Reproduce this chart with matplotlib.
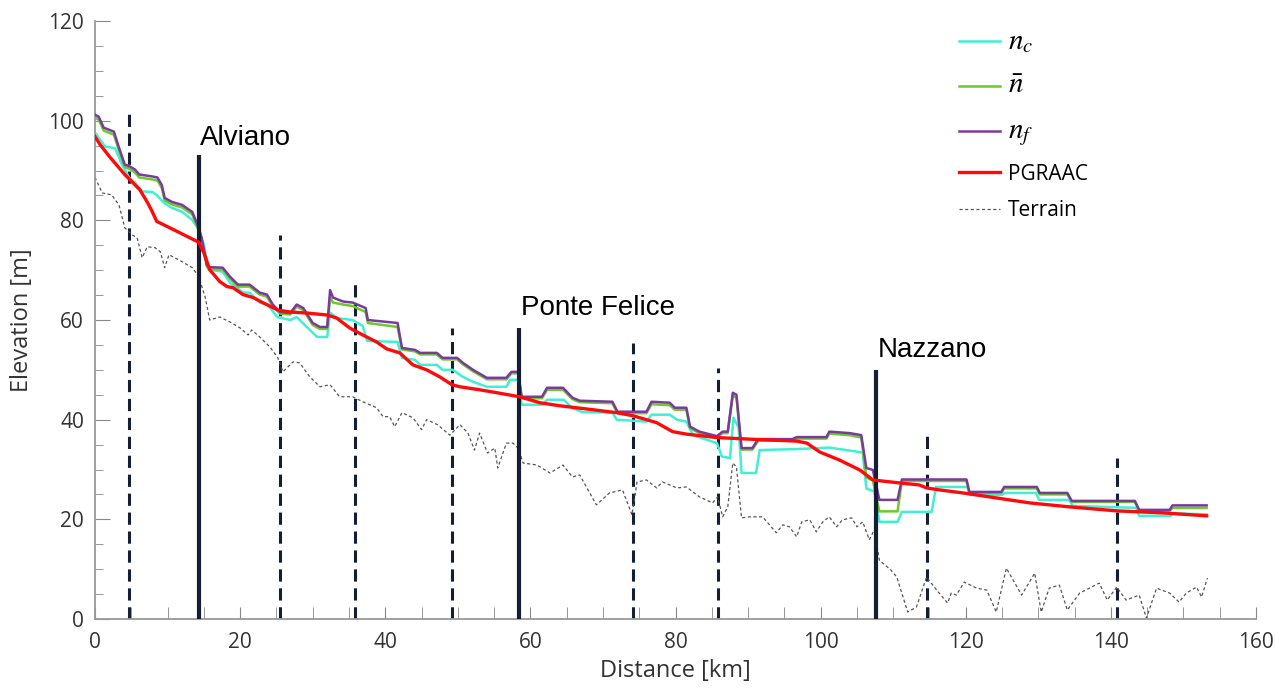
import matplotlib
matplotlib.use("Agg")
import matplotlib.pyplot as plt
from matplotlib.ticker import MultipleLocator

plt.rcParams['font.family'] = ['Open Sans', 'DejaVu Sans']
plt.rcParams['mathtext.fontset'] = 'stix'

# n_c (cyan)
nc_x = [0, 0.5, 1.4, 2.3, 2.8, 3.7, 4.7, 5.5, 6.5, 7.9, 8.5, 9.5, 10.6, 12.0, 13.4, 14.3, 15.0, 15.7,
        17.6, 18.6, 20.4, 21.3, 22.7, 23.8, 25.1, 26.9, 27.8, 29.6, 30.6, 32.0, 32.4, 33.3, 35.5, 36.9,
        37.5, 41.7, 42.3, 44.1, 44.8, 47.1, 47.9, 49.3, 50.7, 52.1, 54.0, 56.7, 57.2, 58.3, 58.8, 61.7,
        62.3, 64.6, 65.7, 67.2, 71.3, 71.9, 76.0, 76.7, 79.2, 80.2, 81.5, 82.4, 85.7, 86.4, 87.5, 88.0,
        88.7, 89.1, 91.1, 91.6, 96.7, 101.2, 104.0, 105.8, 106.3, 107.4, 108.1, 110.6, 111.2, 115.3,
        115.9, 120.2, 120.6, 125.0, 125.3, 129.7, 130.1, 134.3, 134.7, 143.5, 143.9, 148.2, 148.6, 153.2]
nc_y = [97.6, 96.6, 94.8, 94.6, 94.4, 91.2, 88.6, 87.6, 85.8, 85.7, 85.1, 83.5, 82.5, 81.7, 80.1, 78.1, 75.1, 70.1,
        69.7, 67.5, 65.5, 65.5, 63.5, 63.1, 60.6, 60.0, 60.6, 58.0, 56.6, 56.6, 61.5, 60.4, 60.0, 58.8,
        55.8, 55.6, 52.4, 52.0, 51.0, 51.0, 50.0, 50.0, 48.6, 47.6, 46.6, 46.6, 48.0, 48.0, 43.0, 43.0,
        44.0, 44.0, 42.4, 41.5, 41.4, 40.0, 39.6, 41.0, 41.0, 40.0, 39.6, 36.9, 35.3, 32.6, 32.3, 40.4,
        38.4, 29.3, 29.3, 33.9, 34.1, 34.4, 33.8, 33.4, 26.2, 25.6, 19.5, 19.5, 21.5, 21.5,
        26.5, 26.5, 24.9, 24.9, 25.3, 25.3, 23.9, 23.9, 22.7, 22.3, 20.7, 20.7, 21.2, 21.0]

# n_f (purple)
nf_x = [0, 0.5, 1.2, 1.9, 2.6, 3.3, 4.1, 4.8, 5.5, 6.1, 7.9, 8.6, 9.2, 9.6, 10.6, 12.0, 13.4, 14.3, 14.7,
        15.4, 15.7, 17.6, 18.6, 19.7, 21.3, 22.7, 23.7, 24.5, 25.5, 26.9, 27.8, 28.7, 30.0, 31.0, 32.0,
        32.4, 32.8, 34.2, 35.5, 37.3, 37.6, 41.7, 42.3, 44.1, 44.8, 47.1, 47.9, 49.9, 50.7, 52.1, 54.0,
        56.7, 57.4, 58.3, 58.8, 61.6, 62.3, 64.5, 65.8, 66.8, 71.3, 72.0, 76.0, 76.7, 79.2, 79.9, 81.5,
        82.0, 83.3, 85.7, 86.5, 87.2, 87.9, 88.4, 89.1, 90.6, 91.4, 96.1, 96.7, 100.8, 101.2, 104.0,
        105.6, 106.3, 107.2, 108.1, 110.6, 111.2, 120.1, 120.5, 124.9, 125.3, 129.8, 130.2, 134.0, 134.6,
        143.3, 143.9, 148.1, 148.5, 153.2]
nf_y = [101.2, 100.8, 98.6, 98.2, 97.8, 94.6, 91.2, 90.8, 90.2, 89.2, 88.8, 88.6, 87.1, 84.5, 83.7, 83.1, 81.7, 78.5, 76.5,
        71.1, 70.6, 70.5, 68.7, 67.1, 67.1, 65.5, 65.1, 63.1, 61.6, 61.4, 63.1, 62.4, 59.4, 58.6, 58.6,
        66.0, 64.5, 63.7, 63.5, 62.4, 60.0, 59.4, 54.4, 54.0, 53.4, 53.4, 52.4, 52.4, 51.4, 50.0, 48.4,
        48.4, 49.6, 49.6, 44.6, 44.6, 46.4, 46.4, 44.4, 43.8, 43.6, 41.6, 41.6, 43.6, 43.4, 42.4, 42.4,
        38.6, 37.6, 36.7, 37.6, 37.6, 45.4, 45.0, 34.3, 34.3, 36.1, 36.1, 36.5, 36.5, 37.6, 37.3,
        36.9, 30.3, 29.9, 23.9, 23.9, 28.0, 28.0, 25.5, 25.5, 26.5, 26.5, 25.3, 25.3, 23.7,
        23.7, 21.9, 21.9, 22.8, 22.8]

# n-bar (green)
nm_x = nf_x
nm_y = [100.6, 100.2, 98.0, 97.6, 97.2, 94.0, 90.7, 90.3, 89.6, 88.6, 88.2, 88.0, 86.5, 84.0, 83.2, 82.6, 81.2, 78.0, 76.0,
        70.8, 70.2, 70.1, 68.3, 66.7, 66.7, 65.1, 64.7, 62.7, 61.3, 61.1, 62.7, 62.0, 59.0, 58.2, 58.2,
        64.6, 63.5, 63.1, 62.8, 61.6, 59.4, 58.6, 54.1, 53.7, 53.1, 53.1, 52.1, 52.1, 51.1, 49.7, 48.1,
        48.1, 49.3, 49.3, 44.3, 44.3, 46.0, 46.0, 44.1, 43.5, 43.3, 41.3, 41.3, 43.1, 42.9, 42.0, 42.0,
        38.3, 37.3, 36.4, 37.3, 37.3, 44.8, 44.4, 34.0, 34.0, 35.8, 35.8, 36.2, 36.2, 37.2, 36.9,
        36.4, 28.4, 27.8, 21.6, 21.6, 27.7, 27.7, 25.3, 25.3, 26.2, 26.2, 25.0, 25.0, 23.5,
        23.5, 21.7, 21.7, 22.3, 22.3]

# PGRAAC (red)
pg_x = [0, 0.7, 2.1, 4.1, 6.2, 7.3, 7.9, 8.5, 11.0, 14.3, 15.0, 15.8, 17.2, 18.2, 19.0, 20.4, 21.8, 23.1,
        25.2, 26.9, 29.2, 32.0, 33.3, 35.1, 36.9, 38.8, 40.2, 42.0, 43.8, 45.7, 47.5, 49.2, 50.3, 53.0,
        55.4, 58.5, 61.3, 64.0, 68.6, 71.9, 74.1, 77.4, 79.6, 81.5, 85.8, 91.6, 96.7, 98.1, 99.9, 102.6,
        105.4, 107.2, 110.9, 113.6, 114.6, 116.4, 119.6, 124.2, 128.8, 134.3, 140.8, 147.1, 153.2]
pg_y = [96.8, 95.2, 92.6, 89.2, 86.1, 83.4, 81.7, 79.8, 78.0, 75.6, 73.5, 70.1, 67.7, 66.7, 66.5, 65.1, 64.5, 63.5,
        62.0, 61.6, 61.4, 61.0, 60.4, 58.4, 57.0, 55.6, 54.2, 53.4, 51.0, 50.0, 48.6, 47.0, 46.6, 46.0,
        45.4, 44.6, 43.4, 42.8, 42.0, 41.4, 40.8, 39.4, 37.6, 37.1, 36.4, 36.0, 35.7, 35.3, 33.5, 31.9,
        29.9, 27.9, 27.3, 26.9, 26.3, 25.9, 25.3, 24.3, 23.3, 22.5, 21.7, 21.3, 20.7]

# Terrain
tr_x = [0, 1.0, 2.3, 3.3, 4.1, 5.1, 5.8, 6.5, 7.2, 8.3, 9.0, 9.6, 10.2, 12.0, 13.4, 14.3, 15.2, 15.8, 17.2,
        18.6, 20.0, 21.1, 21.6, 22.7, 24.1, 25.2, 25.9, 27.3, 28.2, 29.6, 31.0, 32.4, 33.7, 35.5, 36.9,
        38.8, 39.7, 40.6, 41.3, 42.3, 43.8, 45.0, 45.7, 47.2, 48.9, 50.3, 51.4, 52.3, 53.0, 54.1, 55.1,
        55.5, 56.7, 57.6, 58.3, 59.0, 60.9, 62.7, 64.5, 65.8, 66.8, 69.1, 70.9, 72.7, 74.0, 74.7, 76.0,
        77.4, 78.2, 80.2, 81.5, 83.3, 85.1, 85.8, 86.5, 87.2, 87.9, 88.4, 89.1, 90.2, 92.0, 93.9, 94.8,
        95.7, 96.7, 97.4, 98.5, 99.4, 100.3, 101.2, 102.2, 103.0, 104.3, 105.0, 105.8, 106.7, 107.4,
        108.1, 109.7, 110.5, 112.0, 113.2, 114.6, 116.0, 117.5, 118.0, 118.7, 119.8, 121.5, 122.9,
        124.2, 125.6, 127.7, 129.5, 130.4, 131.5, 132.9, 134.0, 135.7, 138.4, 139.5, 140.8, 142.1,
        143.9, 144.9, 146.3, 148.1, 149.4, 150.4, 151.8, 152.5, 153.3]
tr_y = [88.6, 85.5, 85.1, 83.1, 78.5, 77.1, 76.5, 72.5, 74.7, 74.5, 73.7, 70.5, 73.1, 71.7, 70.5, 68.7, 64.5, 60.0, 60.6,
        59.6, 58.4, 57.0, 58.0, 56.6, 54.6, 52.4, 49.6, 51.6, 51.4, 48.6, 46.6, 47.0, 44.6, 44.6, 43.6,
        42.4, 40.6, 40.6, 38.6, 41.4, 40.4, 38.0, 40.0, 39.0, 36.9, 39.0, 37.3, 33.9, 37.3, 33.3, 34.3,
        30.3, 35.3, 35.3, 34.3, 31.3, 30.9, 29.3, 30.9, 28.5, 28.9, 22.9, 25.3, 25.9, 20.9, 27.5, 27.9,
        26.3, 27.5, 26.3, 26.5, 24.5, 23.3, 24.5, 20.5, 22.5, 31.3, 30.5, 20.3, 20.5, 20.5, 17.3, 18.9,
        18.5, 16.5, 19.5, 19.9, 17.5, 19.5, 20.5, 18.5, 19.9, 20.3, 18.5, 19.5, 15.9, 17.9,
        11.8, 9.8, 8.4, 1.4, 2.4, 8.4, 5.8, 3.2, 5.2, 4.8, 7.4, 6.2, 5.8,
        1.4, 10.2, 4.8, 9.2, 1.4, 6.2, 6.8, 1.8, 5.2, 7.2, 3.8, 6.4, 3.8,
        4.8, 0.2, 6.2, 5.2, 3.4, 5.2, 6.4, 4.4, 8.2]

# dam sites (solid) and other sections (dashed)
dam_names = ["Alviano", "Ponte Felice", "Nazzano"]
dam_km = [14.3, 58.5, 107.7]
dam_top = [93.2, 58.4, 50.0]
dam_label_y = [95.2, 61.0, 52.6]
sec_km = [4.7, 25.5, 35.8, 49.2, 74.1, 85.8, 114.6, 140.8]
sec_top = [101.6, 77.1, 68.3, 58.4, 55.4, 50.4, 36.9, 32.3]

navy = "#141f33"

fig = plt.figure(figsize=(12.76, 6.89), dpi=100)
ax = fig.add_axes([95/1276, 70/689, 1161/1276, 598/689])

ax.vlines(sec_km, 0, sec_top, colors=navy, linewidth=2.2, linestyles=(0, (4, 2.2)), zorder=1)
ax.vlines(dam_km, 0, dam_top, colors=navy, linewidth=3, zorder=5)

ax.plot(nc_x, nc_y, color="#3ff0d6", lw=1.8, label=r"$n_c$", zorder=2)
ax.plot(nm_x, nm_y, color="#6acb2a", lw=1.8, label=r"$\bar{n}$", zorder=3)
ax.plot(nf_x, nf_y, color="#7a3a9c", lw=1.8, label=r"$n_f$", zorder=4)
ax.plot(pg_x, pg_y, color="#ff0a0a", lw=2.4, label="PGRAAC", zorder=6)
ax.plot(tr_x, tr_y, color="#555555", lw=0.9, linestyle=(0, (2.5, 2)), label="Terrain", zorder=1)

for name, km, y in zip(dam_names, dam_km, dam_label_y):
    ax.text(km + 0.2, y, name, fontsize=20, family="Liberation Sans", va="baseline")

ax.set_xlim(0, 160)
ax.set_ylim(0, 120)
ax.xaxis.set_major_locator(MultipleLocator(20))
ax.xaxis.set_minor_locator(MultipleLocator(5))
ax.yaxis.set_major_locator(MultipleLocator(20))
ax.yaxis.set_minor_locator(MultipleLocator(5))
ax.tick_params(axis="both", which="both", direction="in", colors="#888888",
               labelcolor="#333333", labelsize=15)
ax.tick_params(axis="x", which="both", length=9)
ax.tick_params(axis="y", which="major", length=11)
ax.tick_params(axis="y", which="minor", length=6)
ax.tick_params(axis="x", pad=9)
ax.tick_params(axis="y", pad=8)

for s in ["top", "right"]:
    ax.spines[s].set_visible(False)
for s in ["left", "bottom"]:
    ax.spines[s].set_color("#999999")
    ax.spines[s].set_linewidth(1.3)

ax.set_xlabel("Distance [km]", fontsize=17, color="#333333", labelpad=5)
ax.set_ylabel("Elevation [m]", fontsize=17, color="#333333", labelpad=10)

leg = ax.legend(loc="upper left", bbox_to_anchor=(940/1276, 1 - 8/689), bbox_transform=fig.transFigure,
                frameon=False, fontsize=15, handlelength=2.0, handletextpad=0.35, labelspacing=0.75)
for t in leg.get_texts()[:3]:
    t.set_fontsize(21)

fig.savefig("out.png", dpi=100)
